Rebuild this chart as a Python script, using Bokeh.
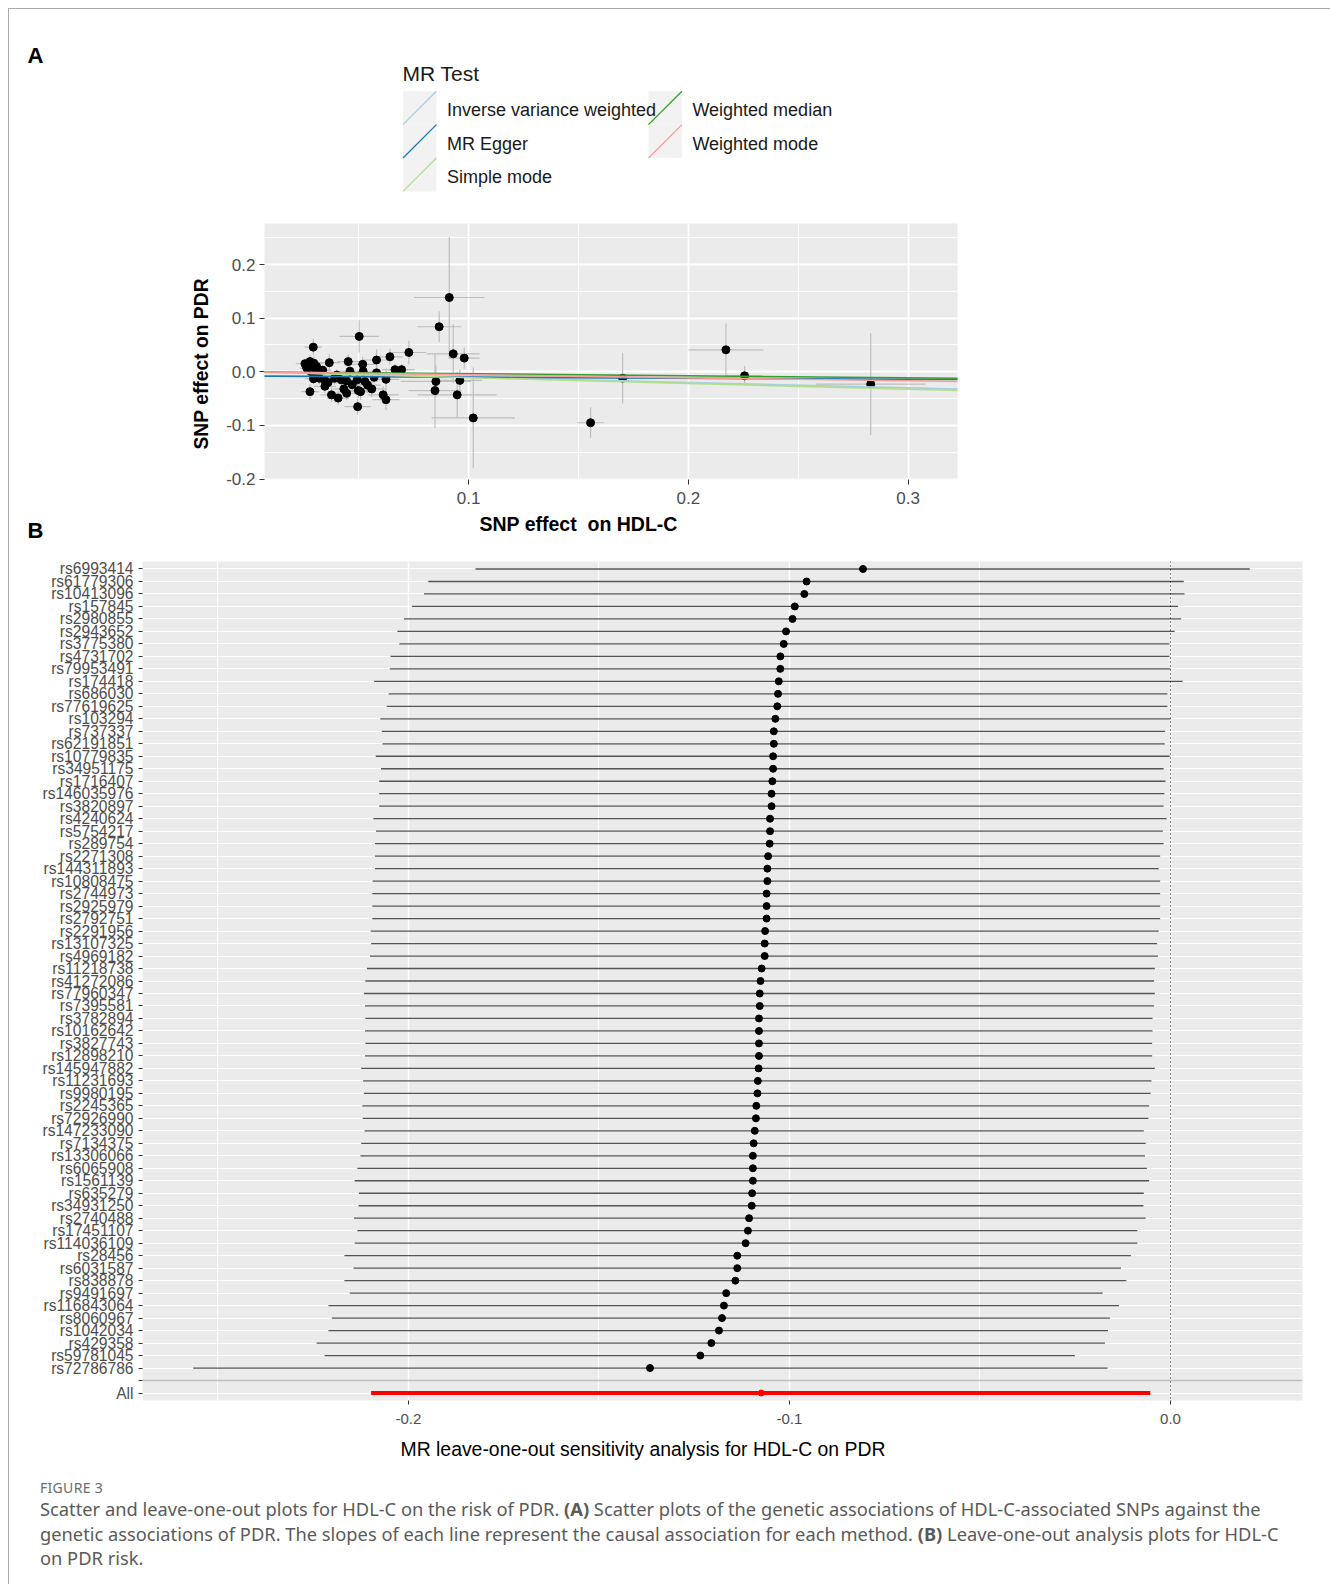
import numpy as np
from bokeh.plotting import figure
from bokeh.models import Range1d, FixedTicker, NumeralTickFormatter, Span, Slope, Div, Title
from bokeh.layouts import column, row
from bokeh.embed import file_html
from bokeh.resources import INLINE
from bokeh.core.properties import value

# ---------------- Panel A data (SNP effects) ----------------
a_x = [0.0293, 0.0278, 0.0270, 0.0278, 0.0285, 0.0263, 0.0293, 0.0308, 0.0296, 0.0300,
       0.0366, 0.0452, 0.0502, 0.0518, 0.0581, 0.0642, 0.0728, 0.0665, 0.0695, 0.0346,
       0.0376, 0.0406, 0.0432, 0.0445, 0.0495, 0.0498, 0.0508, 0.0559, 0.0611, 0.0624,
       0.0624, 0.0493, 0.0528, 0.0294, 0.0320, 0.0346, 0.0390, 0.0420, 0.0445, 0.0400,
       0.0460, 0.0520, 0.0581, 0.0851, 0.0847, 0.0930, 0.0980, 0.0960, 0.0948, 0.1021,
       0.0866, 0.0912, 0.1555, 0.1701, 0.2171, 0.2256, 0.2830, 0.0310, 0.0283, 0.0336,
       0.0360, 0.0470, 0.0540, 0.0570, 0.0255]
a_y = [0.046, -0.037, 0.012, 0.019, 0.010, 0.007, 0.004, 0.010, 0.016, -0.002,
       0.017, 0.019, 0.066, 0.014, 0.022, 0.028, 0.036, 0.004, 0.004, -0.027,
       -0.043, -0.049, -0.032, -0.040, -0.065, -0.035, -0.037, -0.032, -0.043, -0.052,
       -0.014, -0.015, -0.018, -0.013, -0.012, -0.016, -0.012, -0.015, -0.017, -0.006,
       0.001, 0.001, -0.002, -0.018, -0.035, 0.0335, 0.0255, -0.016, -0.043, -0.086,
       0.084, 0.1385, -0.095, -0.012, 0.041, -0.0075, -0.023, 0.005, 0.000, 0.003,
       -0.020, -0.024, -0.025, -0.010, 0.015]
a_se_x = [0.004, 0.004, 0.003, 0.004, 0.004, 0.003, 0.003, 0.004, 0.004, 0.003,
          0.005, 0.005, 0.009, 0.006, 0.006, 0.006, 0.008, 0.006, 0.006, 0.005,
          0.005, 0.005, 0.005, 0.006, 0.006, 0.006, 0.006, 0.006, 0.007, 0.006,
          0.006, 0.006, 0.006, 0.004, 0.004, 0.004, 0.005, 0.005, 0.005, 0.004,
          0.005, 0.005, 0.006, 0.016, 0.012, 0.012, 0.007, 0.010, 0.018, 0.019,
          0.010, 0.016, 0.006, 0.003, 0.017, 0.008, 0.025, 0.004, 0.003, 0.004,
          0.004, 0.005, 0.006, 0.006, 0.0042]
a_se_y = [0.015, 0.014, 0.010, 0.012, 0.010, 0.009, 0.008, 0.011, 0.013, 0.009,
          0.016, 0.014, 0.030, 0.014, 0.020, 0.015, 0.022, 0.011, 0.010, 0.013,
          0.014, 0.013, 0.015, 0.013, 0.015, 0.014, 0.015, 0.016, 0.016, 0.019,
          0.020, 0.014, 0.014, 0.010, 0.011, 0.010, 0.012, 0.011, 0.012, 0.010,
          0.012, 0.010, 0.012, 0.030, 0.070, 0.055, 0.020, 0.020, 0.043, 0.094,
          0.029, 0.113, 0.029, 0.047, 0.049, 0.018, 0.095, 0.009, 0.008, 0.009,
          0.012, 0.013, 0.015, 0.012, 0.010]

methods = ["Inverse variance weighted", "MR Egger", "Simple mode", "Weighted median", "Weighted mode"]
method_slope = [-0.100, -0.020, -0.108, -0.037, -0.056]
method_intercept = [0.0, -0.008, 0.0, 0.0, 0.0]
method_colors = ["#a6cee3", "#1f78b4", "#b2df8a", "#33a02c", "#fb9a99"]

# ---------------- Panel B data (leave-one-out) ----------------
snps = ["rs6993414", "rs61779306", "rs10413096", "rs157845", "rs2980855", "rs2943652",
        "rs3775380", "rs4731702", "rs79953491", "rs174418", "rs686030", "rs77619625",
        "rs103294", "rs737337", "rs62191851", "rs10779835", "rs34951175", "rs1716407",
        "rs146035976", "rs3820897", "rs4240624", "rs5754217", "rs289754", "rs2271308",
        "rs144311893", "rs10808475", "rs2744973", "rs2925979", "rs2792751", "rs2291956",
        "rs13107325", "rs4969182", "rs11218738", "rs41272086", "rs77960347", "rs7395581",
        "rs3782894", "rs10162642", "rs3827743", "rs12898210", "rs145947882", "rs11231693",
        "rs9980195", "rs2245365", "rs72926990", "rs147233090", "rs7134375", "rs13306066",
        "rs6065908", "rs1561139", "rs635279", "rs34931250", "rs2740488", "rs17451107",
        "rs114036109", "rs28456", "rs6031587", "rs838878", "rs9491697", "rs116843064",
        "rs8060967", "rs1042034", "rs429358", "rs59781045", "rs72786786"]
loo_b = [-0.0807, -0.0955, -0.0961, -0.0986, -0.0992, -0.1009, -0.1015, -0.1024, -0.1024, -0.1028,
         -0.1030, -0.1032, -0.1037, -0.1041, -0.1041, -0.1043, -0.1043, -0.1045, -0.1047, -0.1047,
         -0.1051, -0.1051, -0.1052, -0.1056, -0.1058, -0.1058, -0.1060, -0.1060, -0.1060, -0.1064,
         -0.1065, -0.1065, -0.1073, -0.1076, -0.1078, -0.1078, -0.1080, -0.1080, -0.1080, -0.1080,
         -0.1081, -0.1083, -0.1084, -0.1087, -0.1088, -0.1091, -0.1094, -0.1096, -0.1096, -0.1096,
         -0.1098, -0.1099, -0.1106, -0.1109, -0.1115, -0.1137, -0.1137, -0.1142, -0.1166, -0.1172,
         -0.1177, -0.1185, -0.1205, -0.1234, -0.1366]
loo_lo = [-0.1824, -0.1948, -0.1959, -0.1991, -0.2012, -0.2029, -0.2024, -0.2047, -0.2049, -0.2090,
          -0.2052, -0.2057, -0.2074, -0.2070, -0.2068, -0.2086, -0.2072, -0.2077, -0.2077, -0.2077,
          -0.2092, -0.2085, -0.2088, -0.2088, -0.2088, -0.2094, -0.2095, -0.2095, -0.2095, -0.2099,
          -0.2098, -0.2101, -0.2109, -0.2113, -0.2117, -0.2114, -0.2113, -0.2114, -0.2113, -0.2114,
          -0.2124, -0.2119, -0.2117, -0.2121, -0.2120, -0.2115, -0.2124, -0.2126, -0.2134, -0.2141,
          -0.2130, -0.2131, -0.2143, -0.2134, -0.2141, -0.2168, -0.2144, -0.2168, -0.2154, -0.2210,
          -0.2201, -0.2210, -0.2241, -0.2220, -0.2565]
loo_hi = [0.0208, 0.0035, 0.0037, 0.0020, 0.0028, 0.0011, -0.0003, -0.0003, 0.0000, 0.0032,
          -0.0008, -0.0008, 0.0000, -0.0014, -0.0015, -0.0002, -0.0018, -0.0013, -0.0016, -0.0018,
          -0.0010, -0.0020, -0.0018, -0.0027, -0.0031, -0.0027, -0.0027, -0.0027, -0.0027, -0.0031,
          -0.0035, -0.0033, -0.0041, -0.0043, -0.0041, -0.0043, -0.0047, -0.0047, -0.0048, -0.0048,
          -0.0041, -0.0050, -0.0052, -0.0056, -0.0058, -0.0070, -0.0065, -0.0067, -0.0062, -0.0056,
          -0.0070, -0.0071, -0.0065, -0.0087, -0.0087, -0.0104, -0.0130, -0.0116, -0.0178, -0.0135,
          -0.0159, -0.0164, -0.0172, -0.0251, -0.0165]
all_b, all_lo, all_hi = -0.1074, -0.2098, -0.0053

x_ticks_a = [0.1, 0.2, 0.3]
y_ticks_a = [-0.2, -0.1, 0.0, 0.1, 0.2]
x_ticks_b = [-0.2, -0.1, 0.0]

caption_title = "FIGURE 3"
caption_lines = [
    "Scatter and leave-one-out plots for HDL-C on the risk of PDR. <b>(A)</b> Scatter plots of the genetic associations of HDL-C-associated SNPs against the",
    "genetic associations of PDR. The slopes of each line represent the causal association for each method. <b>(B)</b> Leave-one-out analysis plots for HDL-C",
    "on PDR risk.",
]

FONT = "Liberation Sans"
W = 1311
X0, Y0 = 9, 9  # page offset of content (8px margin + 1px border)
BASE_SHIFT = 0.39  # renderer places alphabetic baseline this many em lower


def blank_fig(w, h, x0, y0):
    """Figure whose data coordinates equal page pixel coordinates."""
    p = figure(width=w, height=h, x_range=Range1d(x0, x0 + w), y_range=Range1d(y0 + h, y0),
               x_axis_location=None, y_axis_location=None, min_border=0, title=None,
               toolbar_location=None, output_backend="svg", outline_line_color=None)
    p.frame_align = False
    p.grid.visible = False
    return p


# ---------------- Legend / header figure ----------------
HL = 214
pL = blank_fig(W, HL, X0, Y0)
pL.text(x=[27], y=[63.5 - BASE_SHIFT * 22], text=["A"], text_font=value(FONT), text_font_size="22px",
        text_font_style="bold", text_baseline="alphabetic", text_color="black")
pL.text(x=[402], y=[80.7 - BASE_SHIFT * 21], text=["MR Test"], text_font=value(FONT), text_font_size="21px",
        text_baseline="alphabetic", text_color="#1a1a1a")
key = 33.4
col_left = [402.5, 648.0]
n_per_col = 3
kl, kt = [], []
for i in range(len(methods)):
    c, r = divmod(i, n_per_col)
    kl.append(col_left[c])
    kt.append(90.7 + r * key)
kl = np.array(kl); kt = np.array(kt)
pL.quad(left=kl, right=kl + key, top=kt, bottom=kt + key, fill_color="#f2f2f2", line_color=None)
pL.segment(x0=kl, y0=kt + key, x1=kl + key, y1=kt, line_color=method_colors, line_width=1.3)
pL.text(x=kl + key + 10.5, y=kt + 26 - BASE_SHIFT * 18, text=methods, text_font=value(FONT),
        text_font_size="18px", text_baseline="alphabetic", text_color="#1a1a1a")

# ---------------- Panel A scatter (with "B" letter strip on its left) ----------------
HA = 322
WS = 100
pS = blank_fig(WS, HA, X0, Y0 + HL)
pS.text(x=[27], y=[539 - BASE_SHIFT * 22], text=["B"], text_font=value(FONT), text_font_size="22px",
        text_font_style="bold", text_baseline="alphabetic", text_color="black")

WA = W - WS
FA_L, FA_W, FA_H = 264 - (X0 + WS), 693, 256
pA = figure(width=WA, height=HA, x_range=Range1d(0.0071, 0.3225), y_range=Range1d(-0.2008, 0.2765),
            min_border_left=FA_L, min_border_right=WA - FA_L - FA_W, min_border_top=0,
            min_border_bottom=HA - FA_H, toolbar_location=None, output_backend="svg", title=None,
            background_fill_color="#ebebeb", outline_line_color=None)
pA.frame_align = False
tx = FixedTicker(ticks=x_ticks_a, minor_ticks=[0.05, 0.15, 0.25])
ty = FixedTicker(ticks=y_ticks_a, minor_ticks=[-0.15, -0.05, 0.05, 0.15, 0.25])
pA.xaxis.ticker = tx; pA.xgrid.ticker = tx
pA.yaxis.ticker = ty; pA.ygrid.ticker = ty
for g in (pA.xgrid, pA.ygrid):
    g.grid_line_color = "white"; g.grid_line_width = 1.8
    g.minor_grid_line_color = "white"; g.minor_grid_line_width = 0.9
for ax in (pA.xaxis, pA.yaxis):
    ax.formatter = NumeralTickFormatter(format="0.0")
    ax.axis_line_color = None
    ax.major_tick_line_color = "#333333"; ax.major_tick_out = 5; ax.major_tick_in = 0
    ax.minor_tick_line_color = None
    ax.major_label_text_font = FONT; ax.major_label_text_font_size = "17px"
    ax.major_label_text_color = "#4d4d4d"
pA.xaxis.major_label_standoff = 7
pA.yaxis.major_label_standoff = 4
pA.add_layout(Title(text="SNP effect\u00a0 on HDL-C", align="left", offset=479 - 264, standoff=8,
                    text_font=FONT, text_font_size="19.5px", text_font_style="bold",
                    text_color="black"), "below")
pA.add_layout(Title(text="SNP effect on PDR", align="left", offset=479 - 449, standoff=23,
                    text_font=FONT, text_font_size="19.3px", text_font_style="bold",
                    text_color="black"), "left")

ax_ = np.array(a_x); ay_ = np.array(a_y); sx_ = np.array(a_se_x); sy_ = np.array(a_se_y)
pA.segment(x0=ax_, y0=ay_ - sy_, x1=ax_, y1=ay_ + sy_, line_color="#bebebe", line_width=1.2)
pA.segment(x0=ax_ - sx_, y0=ay_, x1=ax_ + sx_, y1=ay_, line_color="#bebebe", line_width=1.2)
pA.scatter(x=ax_, y=ay_, size=8, color="black")
for s, b0, c in zip(method_slope, method_intercept, method_colors):
    pA.add_layout(Slope(gradient=s, y_intercept=b0, line_color=c, line_width=1.6))

# ---------------- Panel B leave-one-out ----------------
HB = 925
FB_L, FB_W, FB_T, FB_H = 133, 1160, 16, 839
n = len(snps)
rows = np.arange(1, n + 1)
blank_row = n + 1
all_row = n + 2
pB = figure(width=W, height=HB, x_range=Range1d(-0.2698, 0.03465), y_range=Range1d(all_row + 0.6, 0.4),
            min_border_left=FB_L, min_border_right=W - FB_L - FB_W, min_border_top=FB_T,
            min_border_bottom=HB - FB_T - FB_H, toolbar_location=None, output_backend="svg", title=None,
            background_fill_color="#ebebeb", outline_line_color=None)
pB.frame_align = False
txb = FixedTicker(ticks=x_ticks_b, minor_ticks=[-0.25, -0.15, -0.05])
tyb = FixedTicker(ticks=list(range(1, all_row + 1)), minor_ticks=[])
pB.xaxis.ticker = txb; pB.xgrid.ticker = txb
pB.yaxis.ticker = tyb; pB.ygrid.ticker = tyb
pB.xgrid.grid_line_color = "white"; pB.xgrid.grid_line_width = 1.4
pB.xgrid.minor_grid_line_color = "white"; pB.xgrid.minor_grid_line_width = 1.0
pB.ygrid.grid_line_color = "white"; pB.ygrid.grid_line_width = 1.2
labels = {int(r): s for r, s in zip(rows, snps)}
labels[blank_row] = ""
labels[all_row] = "All"
pB.yaxis.major_label_overrides = labels
for ax in (pB.xaxis, pB.yaxis):
    ax.axis_line_color = None
    ax.major_tick_line_color = "#333333"; ax.major_tick_out = 4; ax.major_tick_in = 0
    ax.minor_tick_line_color = None
    ax.major_label_text_font = FONT
    ax.major_label_text_color = "#4d4d4d"
pB.yaxis.major_label_text_font_size = "15.6px"
pB.xaxis.major_label_text_font_size = "15px"
pB.xaxis.formatter = NumeralTickFormatter(format="0.0")
pB.xaxis.major_label_standoff = 9
pB.yaxis.major_label_standoff = 5
pB.add_layout(Title(text="MR leave-one-out sensitivity analysis for HDL-C on PDR", align="left",
                    offset=400 - 142, standoff=19, text_font=FONT, text_font_size="19.4px",
                    text_font_style="normal", text_color="black"), "below")

pB.add_layout(Span(location=blank_row, dimension="width", line_color="#bebebe", line_width=1.5))
pB.add_layout(Span(location=0, dimension="height", line_color="black", line_width=1, line_dash="1 3"))
pB.segment(x0=loo_lo, y0=rows, x1=loo_hi, y1=rows, line_color="#555555", line_width=1.3)
pB.scatter(x=loo_b, y=rows, size=7, color="black")
pB.segment(x0=[all_lo], y0=[all_row], x1=[all_hi], y1=[all_row], line_color="#ff0000", line_width=4)
pB.scatter(x=[all_b], y=[all_row], size=6, color="#ff0000")

# ---------------- Caption ----------------
cap_html = (
    '<div style="padding-left:26px;font-family:\'Noto Sans\',\'Open Sans\',sans-serif;white-space:nowrap;">'
    '<div style="margin-top:5px;height:16px;line-height:16px;font-size:14px;color:#6b6b6b;letter-spacing:0.3px;">'
    + caption_title + '</div>'
    '<div style="margin-top:1px;line-height:24.5px;font-size:18.3px;color:#5a5a5a;">'
    + "<br>".join(caption_lines) + '</div></div>'
)
cap = Div(text=cap_html, width=W, height=108)

layout = column(pL, row(pS, pA, spacing=0), pB, cap, spacing=0,
                styles={"border": "1px solid #aaaaaa", "margin": "8px 0px 0px 8px"})
open("out.html", "w").write(file_html(layout, INLINE))
